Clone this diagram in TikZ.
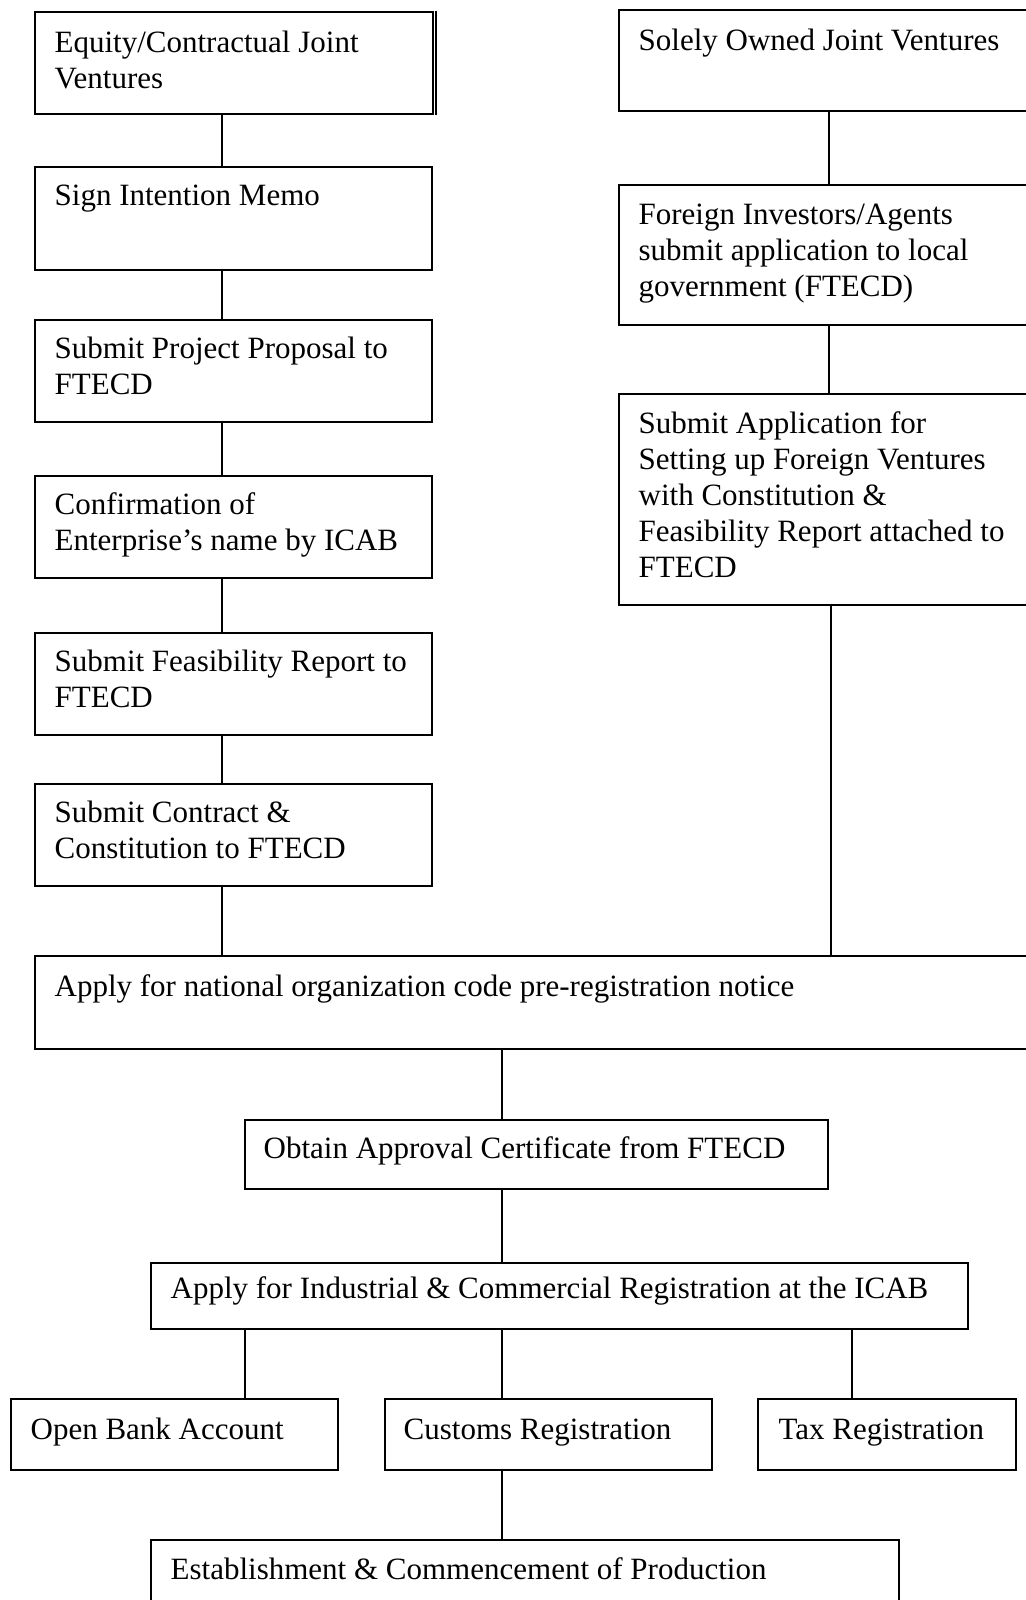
\documentclass[tikz,border=0pt]{standalone}
\usepackage{fontspec}
\setmainfont{Liberation Serif}
\usetikzlibrary{fit,calc}
\tikzset{
  stepbox/.style={draw=black, line width=0.75pt, fit={#1}, inner sep=0pt, rectangle},
  txt/.style={anchor=north west, align=left, inner sep=0pt, font=\fontsize{15.5}{18}\selectfont},
  link/.style={draw=black, line width=0.75pt}
}
\newcommand{\bx}[4]{%
  \node[stepbox={#2}] (#1) {};
  \node[txt] (#1t) at ($(#1.north west)+(#3)$) {\strut #4};
}
\begin{document}
\begin{tikzpicture}[x=0.5pt,y=-0.5pt]
\useasboundingbox (0,0) rectangle (1025,1600);
% left column
\bx{b1}{(35,12)(433,114)}{20,16}{Equity/Contractual Joint\\Ventures}
\bx{b2}{(35,167)(432,270)}{20,14}{Sign Intention Memo}
\bx{b3}{(35,320)(432,422)}{20,14}{Submit Project Proposal to\\FTECD}
\bx{b4}{(35,476)(432,578)}{20,14}{Confirmation of\\Enterprise’s name by ICAB}
\bx{b5}{(35,633)(432,735)}{20,14}{Submit Feasibility Report to\\FTECD}
\bx{b6}{(35,784)(432,886)}{20,14}{Submit Contract \&\\Constitution to FTECD}
\draw[line width=0.75pt] ($(b1.north east)+(2,0)$) -- ($(b1.south east)+(2,0)$);
% right column
\bx{r1}{(619,10)(1032,111)}{20,16}{Solely Owned Joint Ventures}
\bx{r2}{(619,185)(1032,325)}{20,15}{Foreign Investors/Agents\\submit application to local\\government (FTECD)}
\bx{r3}{(619,394)(1032,605)}{20,15}{Submit Application for\\Setting up Foreign Ventures\\with Constitution \&\\Feasibility Report attached to\\FTECD}
% lower part
\bx{n1}{(35,956)(1032,1049)}{20,16}{Apply for national organization code pre-registration notice}
\bx{n2}{(245,1120)(828,1189)}{19,14}{Obtain Approval Certificate from FTECD}
\bx{n3}{(151,1263)(968,1329)}{20,11}{Apply for Industrial \& Commercial Registration at the ICAB}
\bx{o1}{(11,1399)(338,1470)}{20,16}{Open Bank Account}
\bx{o2}{(385,1399)(712,1470)}{19,16}{Customs Registration}
\bx{o3}{(758,1399)(1016,1470)}{21,16}{Tax Registration}
\bx{e1}{(151,1540)(899,1620)}{20,15}{Establishment \& Commencement of Production}
% connector x positions
\coordinate (cl) at (222,0);
\coordinate (cr) at (829,0);
\coordinate (cr2) at (831,0);
\coordinate (cm) at (502,0);
\coordinate (ca) at (245,0);
\coordinate (cc) at (852,0);
\draw[link] (cl |- b1.south) -- (cl |- b2.north);
\draw[link] (cl |- b2.south) -- (cl |- b3.north);
\draw[link] (cl |- b3.south) -- (cl |- b4.north);
\draw[link] (cl |- b4.south) -- (cl |- b5.north);
\draw[link] (cl |- b5.south) -- (cl |- b6.north);
\draw[link] (cl |- b6.south) -- (cl |- n1.north);
\draw[link] (cr |- r1.south) -- (cr |- r2.north);
\draw[link] (cr |- r2.south) -- (cr |- r3.north);
\draw[link] (cr2 |- r3.south) -- (cr2 |- n1.north);
\draw[link] (cm |- n1.south) -- (cm |- n2.north);
\draw[link] (cm |- n2.south) -- (cm |- n3.north);
\draw[link] (ca |- n3.south) -- (ca |- o1.north);
\draw[link] (cm |- n3.south) -- (cm |- o2.north);
\draw[link] (cc |- n3.south) -- (cc |- o3.north);
\draw[link] (cm |- o2.south) -- (cm |- e1.north);
\end{tikzpicture}
\end{document}
